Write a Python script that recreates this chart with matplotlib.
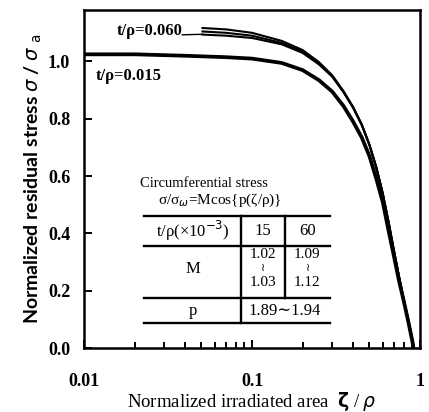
import numpy as np
import matplotlib
matplotlib.use("Agg")
import matplotlib.pyplot as plt

# ---- data ----
# t/rho = 0.015 (thick single curve)
zeta_015 = [0.01, 0.02, 0.04, 0.07, 0.1, 0.15, 0.2, 0.25, 0.3, 0.35, 0.4,
            0.45, 0.5, 0.55, 0.6, 0.65, 0.7, 0.75, 0.8, 0.85, 0.9, 0.915]
sig_015 = [1.025, 1.025, 1.02, 1.015, 1.01, 0.995, 0.97, 0.935, 0.895, 0.845, 0.79,
           0.735, 0.67, 0.59, 0.51, 0.41, 0.32, 0.235, 0.165, 0.095, 0.025, 0.0]

# t/rho = 0.060 (bundle of three curves)
zeta_060 = [0.05, 0.07, 0.1, 0.15, 0.2, 0.25, 0.3, 0.35, 0.4, 0.45, 0.5,
            0.55, 0.6, 0.65, 0.7, 0.75, 0.8, 0.85, 0.9, 0.92]
sig_060_a = [1.117, 1.112, 1.10, 1.072, 1.04, 0.998, 0.952, 0.897, 0.841, 0.78, 0.71,
             0.63, 0.54, 0.44, 0.34, 0.25, 0.17, 0.10, 0.03, 0.0]
sig_060_b = [1.105, 1.10, 1.09, 1.065, 1.035, 0.995, 0.95, 0.895, 0.84, 0.78, 0.71,
             0.63, 0.54, 0.44, 0.34, 0.25, 0.17, 0.10, 0.03, 0.0]
sig_060_c = [1.094, 1.09, 1.082, 1.06, 1.03, 0.99, 0.947, 0.893, 0.838, 0.778, 0.708,
             0.628, 0.538, 0.438, 0.338, 0.248, 0.168, 0.098, 0.028, 0.0]

# table contents
tbl_head = ["t/\u03c1(\u00d710$^{-3}$)", "15", "60"]
tbl_M_lo = ["1.02", "1.09"]
tbl_M_hi = ["1.03", "1.12"]
tbl_p = "1.89\u223c1.94"

serif = ["Liberation Serif", "DejaVu Serif"]

fig = plt.figure(figsize=(4.29, 4.12), dpi=100)
ax = fig.add_axes([0.196, 0.155, 0.783, 0.821])

ax.plot(zeta_015, sig_015, color="black", lw=2.7, solid_capstyle="butt")
for s in (sig_060_a, sig_060_b, sig_060_c):
    ax.plot(zeta_060, s, color="black", lw=1.5, solid_capstyle="butt")

ax.set_xscale("log")
ax.set_xlim(0.01, 1)
ax.set_ylim(0, 1.18)
ax.set_yticks([0.0, 0.2, 0.4, 0.6, 0.8, 1.0])
ax.set_xticks([0.01, 0.1, 1])
ax.set_xticklabels(["0.01", "0.1", "1"])

for sp in ax.spines.values():
    sp.set_linewidth(1.8)
ax.tick_params(which="both", direction="in", top=False, right=False, width=1.4)
ax.tick_params(which="major", length=6)
ax.tick_params(which="minor", length=4)
ax.tick_params(axis="x", pad=18)
ax.tick_params(axis="y", pad=10)
for lab in ax.get_xticklabels() + ax.get_yticklabels():
    lab.set_fontfamily(serif)
    lab.set_fontweight("bold")
    lab.set_fontsize(13)

ax.set_xlabel("Normalized irradiated area  $\\mathbf{\\zeta}$ / $\\rho$",
              fontfamily=serif, fontsize=13.5, labelpad=0)
ax.set_ylabel("Normalized residual stress $\\sigma$ / $\\sigma$ $_{\\rm a}$",
              fontfamily="Lato", fontweight="bold", fontsize=14, labelpad=3)

# curve labels
ax.text(0.0384, 1.108, "t/\u03c1=0.060", fontfamily=serif, fontweight="bold",
        fontsize=12, ha="right", va="center")
ax.plot([0.0384, 0.051], [1.093, 1.095], color="black", lw=1.0)
ax.text(0.0118, 0.948, "t/\u03c1=0.015", fontfamily=serif, fontweight="bold",
        fontsize=12, ha="left", va="center")

# inset table (axes fraction coordinates)
tr = ax.transAxes
tk = dict(fontfamily=serif, fontsize=12, transform=tr, ha="center", va="center")
ax.text(0.167, 0.488, "Circumferential stress", fontfamily=serif, fontsize=10.5,
        transform=tr, ha="left", va="center")
ax.text(0.22, 0.438, "\u03c3/\u03c3$_{\\omega}$=Mcos{p(\u03b6/\u03c1)}",
        fontfamily=serif, fontsize=11, transform=tr, ha="left", va="center")

x0, x1, x2, x3 = 0.179, 0.467, 0.598, 0.732
y0, y1, y2, y3 = 0.391, 0.302, 0.148, 0.074
lk = dict(color="black", lw=1.7, transform=tr, clip_on=False)
for yy in (y0, y1, y2, y3):
    ax.plot([x0, x3], [yy, yy], **lk)
ax.plot([x1, x1], [y0, y3], **lk)
ax.plot([x2, x2], [y0, y2], **lk)

cx = [(x0 + x1) / 2, (x1 + x2) / 2, (x2 + x3) / 2]
for c, t in zip(cx, tbl_head):
    ax.text(c, 0.346, t, **tk)
ax.text(cx[0], 0.235, "M", **tk)
mk = dict(tk, fontsize=11)
for c, lo, hi in zip(cx[1:], tbl_M_lo, tbl_M_hi):
    ax.text(c, 0.276, lo, **mk)
    ax.text(c, 0.237, "$\\wr$", fontsize=8, transform=tr, ha="center", va="center")
    ax.text(c, 0.194, hi, **mk)
ax.text(cx[0], 0.111, "p", **tk)
ax.text(x2, 0.111, tbl_p, **tk)

fig.savefig("out.png", dpi=100)
